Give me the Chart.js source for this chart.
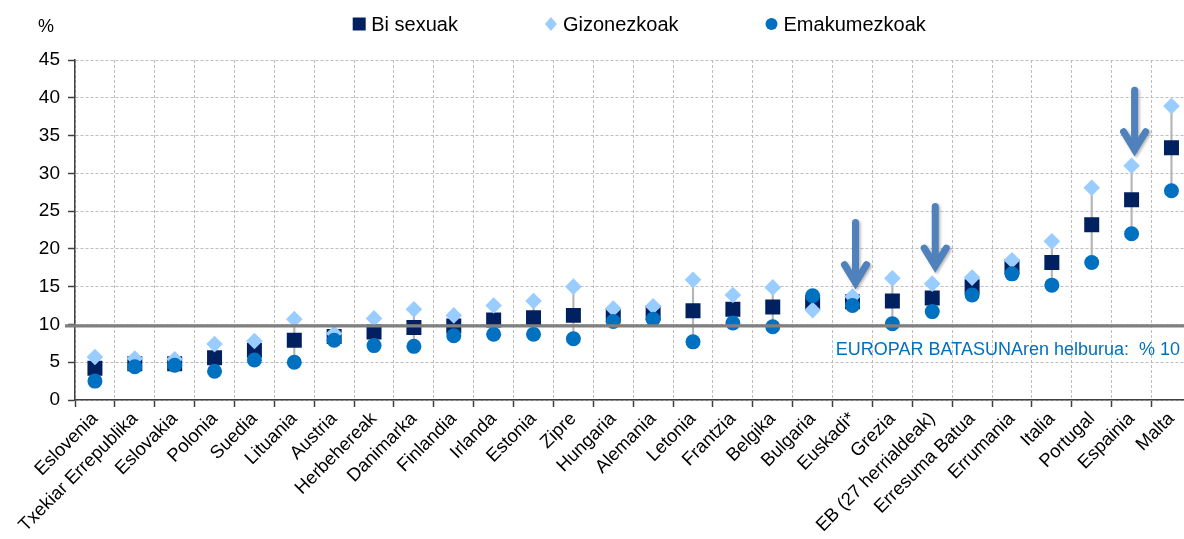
<!DOCTYPE html>
<html lang="eu">
<head>
    <meta charset="UTF-8">
    <title>Eskola uzte goiztiarra</title>
    <script src="https://cdn.jsdelivr.net/npm/chart.js"></script>
    <style>
        html, body {
            margin: 0;
            padding: 0;
            background-color: #fff;
            overflow: hidden;
        }
        #chartContainer {
            width: 1184px;
            height: 539px;
            overflow: hidden;
        }
    </style>
</head>
<body>

<div id="chartContainer">
    <!-- the plot runs a few pixels past the right edge, like the original -->
    <canvas id="mainChart" width="1202" height="539"></canvas>
</div>

<script>
    const categories = ['Eslovenia', 'Txekiar Errepublika', 'Eslovakia', 'Polonia', 'Suedia', 'Lituania', 'Austria',
        'Herbehereak', 'Danimarka', 'Finlandia', 'Irlanda', 'Estonia', 'Zipre', 'Hungaria', 'Alemania', 'Letonia',
        'Frantzia', 'Belgika', 'Bulgaria', 'Euskadi*', 'Grezia', 'EB (27 herrialdeak)', 'Erresuma Batua',
        'Errumania', 'Italia', 'Portugal', 'Espainia', 'Malta'];

    const biSexuak = [4.2, 4.8, 4.8, 5.6, 6.6, 7.9, 8.4, 9.0, 9.6, 9.8, 10.6, 10.9, 11.2, 11.2, 11.5, 11.8,
        12.0, 12.3, 12.9, 13.0, 13.1, 13.5, 15.0, 17.6, 18.2, 23.2, 26.5, 33.4];
    const gizonezkoak = [5.7, 5.5, 5.4, 7.4, 7.8, 10.7, 8.8, 10.8, 12.0, 11.2, 12.5, 13.1, 15.0, 12.1, 12.4, 15.9,
        13.9, 14.9, 11.9, 13.7, 16.1, 15.4, 16.2, 18.5, 21.0, 28.1, 31.0, 38.9];
    const emakumezkoak = [2.5, 4.4, 4.6, 3.8, 5.3, 5.0, 7.9, 7.2, 7.1, 8.5, 8.7, 8.7, 8.1, 10.4, 10.7, 7.7,
        10.2, 9.7, 13.8, 12.5, 10.1, 11.7, 13.9, 16.7, 15.2, 18.2, 22.0, 27.7];

    const yTicks = [0, 5, 10, 15, 20, 25, 30, 35, 40, 45];

    // EBko helburua (marra horizontala)
    const targetValue = 9.8;
    const targetText = 'EUROPAR BATASUNAren helburua:  % 10';

    // geziak: kategoria, goiko muturra, punta
    const arrowCats = ['Euskadi*', 'EB (27 herrialdeak)', 'Espainia'];
    const arrowTop = [23.5, 25.6, 41.0];
    const arrowTip = [14.6, 16.8, 32.2];

    const FONT = "'Liberation Sans', Arial, sans-serif";
    const PAGE_W = 1184;

    // min-max tartea kategoria bakoitzeko (marra grisa)
    const ranges = categories.map((c, i) => {
        const v = [biSexuak[i], gizonezkoak[i], emakumezkoak[i]];
        return [Math.min(...v), Math.max(...v)];
    });

    const extras = {
        id: 'extras',
        afterDatasetsDraw(chart) {
            const ctx = chart.ctx;
            const xs = chart.scales.x;
            const ys = chart.scales.y;
            const area = chart.chartArea;

            // helburu marra
            const ty = ys.getPixelForValue(targetValue);
            ctx.save();
            ctx.strokeStyle = '#808080';
            ctx.lineWidth = 3.3;
            ctx.beginPath();
            ctx.moveTo(area.left - 10, ty);
            ctx.lineTo(chart.width, ty);
            ctx.stroke();

            ctx.fillStyle = '#0070c0';
            ctx.font = '18px ' + FONT;
            ctx.textAlign = 'right';
            ctx.textBaseline = 'middle';
            ctx.fillText(targetText, PAGE_W - 4, ty + 24);
            ctx.restore();

            // geziak
            arrowCats.forEach((c, i) => {
                const x = xs.getPixelForValue(categories.indexOf(c)) + 3;
                const y1 = ys.getPixelForValue(arrowTop[i]);
                const y2 = ys.getPixelForValue(arrowTip[i]);
                ctx.save();
                ctx.strokeStyle = '#4f81bd';
                ctx.lineWidth = 7;
                ctx.lineJoin = 'miter';
                ctx.lineCap = 'round';
                ctx.shadowColor = 'rgba(0,0,0,0.3)';
                ctx.shadowBlur = 3;
                ctx.shadowOffsetX = 1.5;
                ctx.shadowOffsetY = 1.5;
                ctx.beginPath();
                ctx.moveTo(x, y1);
                ctx.lineTo(x, y2 - 7);
                ctx.moveTo(x - 11, y2 - 25);
                ctx.lineTo(x, y2 - 7);
                ctx.lineTo(x + 11, y2 - 25);
                ctx.stroke();
                ctx.restore();
            });
        },
        afterDraw(chart) {
            const ctx = chart.ctx;
            ctx.save();
            ctx.fillStyle = '#000';
            ctx.font = '18px ' + FONT;
            ctx.textAlign = 'center';
            ctx.textBaseline = 'middle';
            ctx.fillText('%', 46, 27);

            // legenda
            ctx.font = '20px ' + FONT;
            ctx.textAlign = 'left';
            const items = chart.data.datasets.filter(d => d.type === 'line');
            const gap = 86;
            let widths = items.map(d => 14 + 5 + ctx.measureText(d.label).width);
            let total = widths.reduce((a, b) => a + b, 0) + gap * (items.length - 1);
            let x = 639 - total / 2;
            const y = 24;
            items.forEach((d, i) => {
                const cx = x + 7;
                ctx.fillStyle = d.pointBackgroundColor;
                ctx.beginPath();
                if (d.pointStyle === 'rect') {
                    ctx.rect(cx - 6.5, y - 6.5, 13, 13);
                } else if (d.pointStyle === 'rectRot') {
                    ctx.moveTo(cx, y - 7);
                    ctx.lineTo(cx + 6, y);
                    ctx.lineTo(cx, y + 7);
                    ctx.lineTo(cx - 6, y);
                    ctx.closePath();
                } else {
                    ctx.arc(cx, y, 6, 0, Math.PI * 2);
                }
                ctx.fill();
                ctx.fillStyle = '#000';
                ctx.fillText(d.label, x + 19, y + 1);
                x += widths[i] + gap;
            });
            ctx.restore();
        }
    };

    const gridColor = '#bdbdbd';
    const axisColor = '#404040';

    new Chart(document.getElementById('mainChart').getContext('2d'), {
        type: 'bar',
        data: {
            labels: categories,
            datasets: [
                {
                    type: 'line',
                    label: 'Bi sexuak',
                    data: biSexuak,
                    showLine: false,
                    pointStyle: 'rect',
                    pointRadius: 10.6,
                    pointHoverRadius: 10.6,
                    pointBorderWidth: 0,
                    pointBackgroundColor: '#002060',
                    borderColor: '#002060',
                    order: 3
                },
                {
                    type: 'line',
                    label: 'Gizonezkoak',
                    data: gizonezkoak,
                    showLine: false,
                    pointStyle: 'rectRot',
                    pointRadius: 8.3,
                    pointHoverRadius: 8.3,
                    pointBorderWidth: 0,
                    pointBackgroundColor: '#99ccff',
                    borderColor: '#99ccff',
                    order: 2
                },
                {
                    type: 'line',
                    label: 'Emakumezkoak',
                    data: emakumezkoak,
                    showLine: false,
                    pointStyle: 'circle',
                    pointRadius: 7.5,
                    pointHoverRadius: 7.5,
                    pointBorderWidth: 0,
                    pointBackgroundColor: '#0070c0',
                    borderColor: '#0070c0',
                    order: 1
                },
                {
                    type: 'bar',
                    label: 'tartea',
                    data: ranges,
                    backgroundColor: '#b5b5b5',
                    barThickness: 1.5,
                    order: 4
                }
            ]
        },
        options: {
            responsive: false,
            animation: false,
            layout: {
                padding: { top: 60, right: 0, left: 0, bottom: 0 }
            },
            plugins: {
                legend: { display: false },
                tooltip: { enabled: false }
            },
            scales: {
                x: {
                    grid: {
                        color: gridColor,
                        lineWidth: 1,
                        offset: true,
                        tickColor: axisColor,
                        tickLength: 7,
                        tickWidth: 1.5
                    },
                    border: { color: axisColor, width: 1.5, dash: [3, 2] },
                    ticks: {
                        color: '#000',
                        font: { size: 18.5, family: FONT },
                        maxRotation: 45,
                        minRotation: 45,
                        autoSkip: false,
                        padding: 1
                    },
                    afterFit: s => {
                        s.height = 139;
                        s.paddingLeft = 0;
                        s.paddingRight = 0;
                    }
                },
                y: {
                    min: 0,
                    max: 45,
                    afterBuildTicks: s => { s.ticks = yTicks.map(v => ({ value: v })); },
                    grid: {
                        color: gridColor,
                        lineWidth: 1,
                        tickColor: axisColor,
                        tickLength: 7,
                        tickWidth: 1.5
                    },
                    border: { color: axisColor, width: 1.5, dash: [3, 2] },
                    ticks: {
                        color: '#000',
                        font: { size: 19, family: FONT },
                        padding: 8
                    },
                    afterFit: s => { s.width = 75; }
                }
            }
        },
        plugins: [extras]
    });
</script>

</body>
</html>
